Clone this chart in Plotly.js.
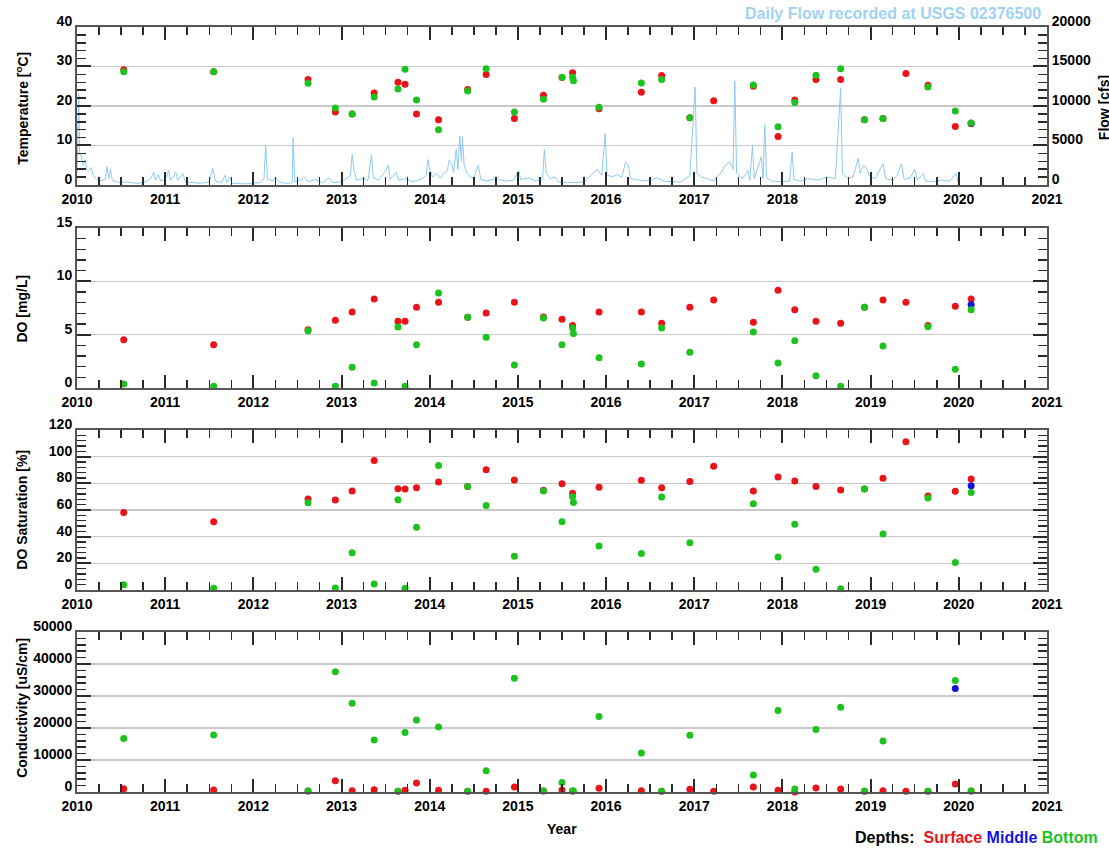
<!DOCTYPE html>
<html><head><meta charset="utf-8">
<script src="https://cdn.plot.ly/plotly-3.0.1.min.js"></script>
<style>html,body{margin:0;padding:0;background:#fff}#chart{width:1109px;height:853px}</style>
</head><body><div id="chart"></div>
<script>
// ---- sampling events (decimal year) ----
const sampleYear = [2010.53, 2011.55, 2012.62, 2012.93, 2013.12, 2013.37, 2013.64, 2013.72, 2013.85, 2014.10,
  2014.43, 2014.64, 2014.96, 2015.29, 2015.50, 2015.62, 2015.63, 2015.92, 2016.40, 2016.63,
  2016.95, 2017.22, 2017.67, 2017.95, 2018.14, 2018.38, 2018.66, 2018.93, 2019.14, 2019.40,
  2019.65, 2019.96, 2020.14];

// Temperature [ºC]
const tempSurface = [29.2, 28.7, 26.7, 18.5, 18.0, 23.3, 26.0, 25.5, 18.0, 16.5, 24.2, 28.0, 16.8, 22.7, 27.2, 28.4, null, 19.3, 23.5, 27.7, 17.0, 21.3, 25.0, 12.3, 21.5, 26.7, 26.7, 16.5, 16.8, 28.25, 25.25, 14.8, 15.5];
const tempBottom  = [28.7, 28.7, 25.75, 19.5, 18.0, 22.25, 24.3, 29.3, 21.5, 14.0, 23.8, 29.4, 18.5, 21.7, 27.25, 27.25, 26.4, 19.7, 25.8, 26.7, 17.0, null, 25.3, 14.75, 20.9, 27.8, 29.4, 16.5, 16.8, null, 24.8, 18.7, 15.7];
const tempMiddleYear = [2020.14];
const tempMiddle = [15.6];

// DO [mg/L]
const doSurface = [4.53, 4.06, 5.47, 6.34, 7.13, 8.34, 6.25, 6.25, 7.56, 8.03, 6.63, 7.03, 8.03, 6.65, 6.44, 5.87, null, 7.13, 7.13, 6.06, 7.56, 8.25, 6.16, 9.16, 7.34, 6.25, 6.06, 7.56, 8.25, 8.03, 5.87, 7.66, 8.34];
const doBottom  = [0.38, 0.16, 5.37, 0.16, 1.94, 0.47, 5.72, 0.16, 4.06, 8.9, 6.63, 4.75, 2.16, 6.55, 4.06, 5.62, 5.12, 2.84, 2.25, 5.62, 3.34, null, 5.25, 2.34, 4.44, 1.16, 0.16, 7.56, 3.94, null, 5.75, 1.75, 7.34];
const doMiddleYear = [2020.14];
const doMiddle = [7.81];

// DO Saturation [%]
const satSurface = [58.1, 51.1, 68.2, 67.4, 74.2, 97.1, 76.0, 75.7, 76.7, 81.0, 77.7, 90.1, 82.5, 74.8, 79.7, 72.5, null, 77.0, 82.3, 76.7, 81.3, 92.8, 74.2, 84.8, 81.8, 77.7, 75.0, 75.7, 83.8, 111.2, 70.4, 74.0, 83.3];
const satBottom  = [4.0, 1.3, 65.4, 1.5, 27.9, 4.5, 67.7, 1.3, 47.0, 93.3, 77.7, 63.4, 25.2, 74.3, 51.1, 69.9, 65.7, 33.0, 27.4, 69.7, 35.5, null, 64.7, 24.7, 49.3, 15.6, 1.0, 75.7, 42.0, null, 68.9, 20.6, 73.2];
const satMiddleYear = [2020.14];
const satMiddle = [78.2];

// Conductivity [uS/cm]
const condSurface = [1040, 625, 300, 3540, 420, 730, 200, 520, 2800, 520, 200, 200, 1560, 300, 600, 300, null, 1150, 400, 200, 830, 200, 1560, 520, 0, 1250, 940, 200, 420, 200, 200, 2500, 300];
const condBottom  = [16700, 17800, 300, 37600, 27700, 16250, 200, 18550, 22500, 20300, 200, 6670, 35500, 300, 3000, 300, 300, 23550, 12200, 200, 17700, null, 5300, 25500, 940, 19500, 26500, 200, 15900, null, 200, 34800, 300];
const condMiddleYear = [2019.96];
const condMiddle = [32300];

// Daily flow at USGS 02376500 [cfs] (peaks and baseline)
const flowYear = [2010.00,2010.02,2010.03,2010.05,2010.07,2010.09,2010.11,2010.13,2010.16,2010.19,2010.23,2010.28,2010.32,2010.34,2010.36,2010.38,2010.40,2010.48,2010.55,2010.60,2010.70,2010.78,2010.84,2010.87,2010.89,2010.92,2010.95,
  2011.00,2011.04,2011.06,2011.09,2011.12,2011.14,2011.20,2011.23,2011.30,2011.40,2011.50,2011.54,2011.57,2011.64,2011.68,2011.70,2011.73,2011.76,2011.90,
  2012.00,2012.08,2012.12,2012.14,2012.16,2012.22,2012.25,2012.30,2012.40,2012.44,2012.45,2012.47,2012.55,2012.58,2012.62,2012.70,2012.78,2012.86,2012.90,
  2013.00,2013.05,2013.10,2013.12,2013.14,2013.17,2013.25,2013.30,2013.34,2013.36,2013.42,2013.48,2013.53,2013.55,2013.62,2013.65,2013.72,2013.80,2013.90,2013.96,2013.98,
  2014.00,2014.03,2014.08,2014.12,2014.16,2014.20,2014.22,2014.25,2014.27,2014.30,2014.32,2014.34,2014.36,2014.37,2014.39,2014.42,2014.46,2014.50,2014.55,2014.58,2014.65,2014.75,2014.85,2014.95,
  2015.01,2015.03,2015.12,2015.20,2015.28,2015.30,2015.32,2015.37,2015.42,2015.46,2015.55,2015.65,2015.75,2015.85,2015.90,2015.95,2015.99,
  2016.01,2016.06,2016.12,2016.18,2016.22,2016.25,2016.28,2016.38,2016.48,2016.58,2016.65,2016.75,2016.85,2016.95,
  2017.01,2017.03,2017.08,2017.15,2017.22,2017.30,2017.35,2017.40,2017.44,2017.46,2017.48,2017.55,2017.61,2017.63,2017.66,2017.68,2017.76,2017.78,2017.80,2017.82,2017.88,2017.98,
  2018.08,2018.11,2018.13,2018.20,2018.30,2018.40,2018.50,2018.60,2018.66,2018.68,2018.74,2018.80,2018.86,2018.88,2018.92,2018.95,2018.98,
  2019.05,2019.14,2019.17,2019.25,2019.30,2019.35,2019.38,2019.45,2019.50,2019.53,2019.60,2019.62,2019.70,2019.80,2019.90,2019.97,2019.99];
const flowCfs = [1500,11500,4000,3500,2500,3200,2000,1800,2200,1000,700,500,700,2300,800,2000,600,300,400,300,200,400,900,1650,600,1300,500,
  700,1860,600,1000,1650,600,1440,400,300,200,400,2080,500,300,1230,300,1000,200,150,
  200,300,800,5000,800,500,900,300,200,300,6000,400,700,1000,400,700,300,900,300,
  400,800,1200,3900,1900,600,800,600,3800,900,600,1500,2500,700,1600,600,800,400,700,1200,3200,
  2000,1000,1500,800,1500,1800,3100,2700,1500,4500,2000,6200,3000,6100,2500,1500,1000,900,2500,700,500,800,500,600,
  1860,700,900,500,800,4500,1500,800,1000,400,300,300,400,1500,2000,1200,6500,
  1300,1000,1300,1000,2900,2500,800,600,500,900,500,400,400,1200,
  12400,1500,1000,800,500,1500,2500,2900,2000,13200,1500,800,1860,600,5000,800,3560,800,7600,900,500,400,
  500,4200,700,500,800,600,1000,800,12300,1500,800,1000,3400,1500,2500,2200,1200,
  800,2700,800,600,1200,2700,700,900,2000,600,1500,500,400,600,500,1500,300];

const RED = '#e8141a', BLUE = '#1414e0', GREEN = '#1ec21e';
const FONT = 'Liberation Sans, Arial, Helvetica, sans-serif';
const tickFont = {family: FONT, size: 14, color: '#000', weight: 'bold'};

function dots(x, y, color, xa, ya) {
  return {x: x, y: y, type: 'scatter', mode: 'markers', xaxis: xa, yaxis: ya, cliponaxis: false,
    marker: {color: color, size: 7, line: {width: 0}}, showlegend: false, hoverinfo: 'skip'};
}

const traces = [
  {x: flowYear, y: flowCfs, type: 'scatter', mode: 'lines', xaxis: 'x', yaxis: 'y2',
   line: {color: '#8ccbf2', width: 1}, showlegend: false, hoverinfo: 'skip'},
  dots(sampleYear, tempSurface, RED, 'x', 'y'),
  dots(tempMiddleYear, tempMiddle, BLUE, 'x', 'y'),
  dots(sampleYear, tempBottom, GREEN, 'x', 'y'),
  dots(sampleYear, doSurface, RED, 'x2', 'y3'),
  dots(doMiddleYear, doMiddle, BLUE, 'x2', 'y3'),
  dots(sampleYear, doBottom, GREEN, 'x2', 'y3'),
  dots(sampleYear, satSurface, RED, 'x3', 'y4'),
  dots(satMiddleYear, satMiddle, BLUE, 'x3', 'y4'),
  dots(sampleYear, satBottom, GREEN, 'x3', 'y4'),
  dots(sampleYear, condSurface, RED, 'x4', 'y5'),
  dots(condMiddleYear, condMiddle, BLUE, 'x4', 'y5'),
  dots(sampleYear, condBottom, GREEN, 'x4', 'y5')
];

const LINEC = '#555', TICKC = '#2a2a2a';
function xax(anchor) {
  return {anchor: anchor, range: [2010, 2021], tick0: 2010, dtick: 1, tickformat: 'd',
    ticks: 'inside', ticklen: 13, tickwidth: 2, tickcolor: TICKC,
    minor: {dtick: 0.25, tick0: 2010, ticks: 'inside', ticklen: 8, tickwidth: 1.5, tickcolor: TICKC, showgrid: false},
    showline: true, linecolor: LINEC, linewidth: 2, mirror: 'ticks',
    showgrid: false, zeroline: false, tickfont: tickFont, fixedrange: true};
}
function yax(anchor, domain, range, dtick, mdtick, mirror) {
  return {anchor: anchor, domain: domain, range: range, dtick: dtick, tick0: 0, tickformat: 'd',
    ticks: 'inside', ticklen: 14, tickwidth: 2, tickcolor: TICKC,
    minor: {dtick: mdtick, tick0: 0, ticks: 'inside', ticklen: 9, tickwidth: 1.5, tickcolor: TICKC, showgrid: false},
    showline: true, linecolor: LINEC, linewidth: 2, mirror: mirror,
    showgrid: true, gridcolor: '#c9c9c9', gridwidth: 1.5, zeroline: false,
    tickfont: tickFont, ticklabelshift: -6, fixedrange: true};
}

const d1 = [0.7935, 1.0], d2 = [0.5281, 0.7373], d3 = [0.2641, 0.4732], d4 = [0, 0.2092];
const y2 = yax('x', d1, [0, 20000], 5000, 1000, false);
y2.overlaying = 'y'; y2.side = 'right'; y2.showgrid = false;

const titleFont = {family: FONT, size: 14, color: '#000', weight: 'bold'};
function ytitle(text, yc) {
  return {text: text, xref: 'paper', yref: 'paper', x: -0.0567, y: yc, xanchor: 'center', yanchor: 'middle',
    textangle: -90, showarrow: false, font: titleFont};
}

const layout = {
  width: 1109, height: 853,
  margin: {l: 77, r: 62, t: 27, b: 61},
  paper_bgcolor: '#fff', plot_bgcolor: '#fff',
  showlegend: false,
  xaxis: xax('y'), xaxis2: xax('y3'), xaxis3: xax('y4'), xaxis4: xax('y5'),
  yaxis: yax('x', d1, [0, 40], 10, 2, false),
  yaxis2: y2,
  yaxis3: yax('x2', d2, [0, 15], 5, 1, 'ticks'),
  yaxis4: yax('x3', d3, [0, 120], 20, 4, 'ticks'),
  yaxis5: yax('x4', d4, [0, 50000], 10000, 2000, 'ticks'),
  annotations: [
    ytitle('Temperature [<sup>o</sup>C]', 0.893),
    ytitle('DO [mg/L]', 0.632),
    ytitle('DO Saturation [%]', 0.369),
    ytitle('Conductivity [uS/cm]', 0.11),
    {text: 'Flow [cfs]', xref: 'paper', yref: 'paper', x: 1.0588, y: 0.894, xanchor: 'center', yanchor: 'middle',
     textangle: -90, showarrow: false, font: titleFont},
    {text: 'Daily Flow recorded at USGS 02376500', xref: 'paper', yref: 'paper', x: 0.9959, y: 1.017,
     xanchor: 'right', yanchor: 'middle', showarrow: false,
     font: {family: FONT, size: 16, color: '#9fd2f3', weight: 'bold'}},
    {text: 'Year', xref: 'paper', yref: 'paper', x: 0.5, y: -0.0484, xanchor: 'center', yanchor: 'middle',
     showarrow: false, font: titleFont},
    {text: 'Depths:  <span style="color:' + RED + '">Surface</span> <span style="color:' + BLUE + '">Middle</span> <span style="color:' + GREEN + '">Bottom</span>',
     xref: 'paper', yref: 'paper', x: 1.0546, y: -0.0601, xanchor: 'right', yanchor: 'middle',
     showarrow: false, font: {family: FONT, size: 16, color: '#000', weight: 'bold'}}
  ]
};

Plotly.newPlot('chart', traces, layout, {staticPlot: true, displayModeBar: false});
</script>
</body></html>
